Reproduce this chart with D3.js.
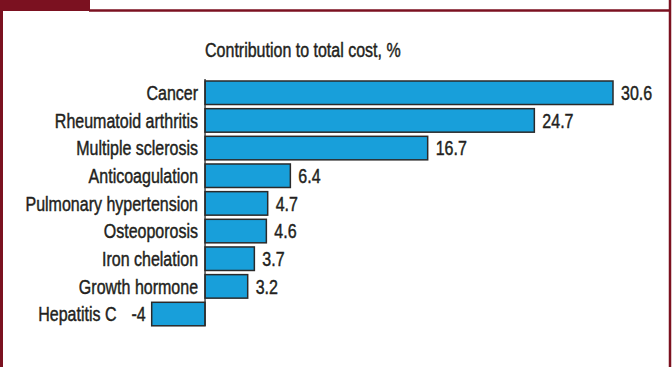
<!DOCTYPE html>
<html><head><meta charset="utf-8">
<script src="https://cdn.jsdelivr.net/npm/d3@7"></script>
<style>
html,body{margin:0;padding:0;background:#fff;}
svg{display:block;}
text{font-family:"Liberation Sans",Arial,sans-serif;fill:#231f20;stroke:#231f20;stroke-width:0.45;}
</style></head>
<body>
<svg id="chart" width="672" height="367"></svg>
<script>
const categories = ["Cancer","Rheumatoid arthritis","Multiple sclerosis","Anticoagulation","Pulmonary hypertension","Osteoporosis","Iron chelation","Growth hormone","Hepatitis C"];
const values = [30.6, 24.7, 16.7, 6.4, 4.7, 4.6, 3.7, 3.2, -4];
const valueLabels = ["30.6","24.7","16.7","6.4","4.7","4.6","3.7","3.2","-4"];
const title = "Contribution to total cost, %";

const svg = d3.select("#chart");
const red = "#7b1120";
const sx = 0.80, fs = 20;

// frame
svg.append("rect").attr("x",0).attr("y",0).attr("width",90).attr("height",11).attr("fill",red);
svg.append("line").attr("x1",89).attr("x2",671).attr("y1",10.5).attr("y2",10.5).attr("stroke",red).attr("stroke-width",2.5);
svg.append("line").attr("x1",1.5).attr("x2",1.5).attr("y1",10).attr("y2",367).attr("stroke",red).attr("stroke-width",3);
svg.append("line").attr("x1",670).attr("x2",670).attr("y1",0).attr("y2",367).attr("stroke",red).attr("stroke-width",2.5);

const x = d3.scaleLinear().domain([-4, 30.6]).range([151.7, 613]);
const y = d3.scaleBand().domain(categories).range([81, 325.8]).paddingInner(0.15).paddingOuter(0);

function label(px, py, txt, anchor, size){
  const g = svg.append("g").attr("transform", `translate(${px},${py}) scale(${sx},1)`);
  return g.append("text").attr("font-size", size||fs).attr("text-anchor", anchor).text(txt);
}

label(x(0), 56.5, title, "start", 20);

const data = categories.map((c,i)=>({c, v: values[i], l: valueLabels[i]}));

svg.selectAll("rect.bar").data(data).join("rect").attr("class","bar")
  .attr("x", d=>x(Math.min(0,d.v))).attr("width", d=>Math.abs(x(d.v)-x(0)))
  .attr("y", d=>y(d.c)).attr("height", y.bandwidth())
  .attr("fill","#189fda").attr("stroke","#2a2a2a").attr("stroke-width",1.5);

// axis line
svg.append("line").attr("x1",x(0)).attr("x2",x(0)).attr("y1",79).attr("y2",326).attr("stroke","#2a2a2a").attr("stroke-width",1.3);

const base = d => y(d.c) + y.bandwidth()/2 + 7.3;

data.forEach(d=>{
  let vx, anchor;
  if (d.v >= 0) { vx = x(d.v)+8; anchor = "start"; } else { vx = x(d.v)-6; anchor = "end"; }
  const vt = label(vx, base(d), d.l, anchor);
  if (d.v >= 0) {
    label(x(0)-7, base(d), d.c, "end");
  } else {
    const w = vt.node().getComputedTextLength()*sx;
    label(vx - w - 15, base(d), d.c, "end");
  }
});
</script>
</body></html>
